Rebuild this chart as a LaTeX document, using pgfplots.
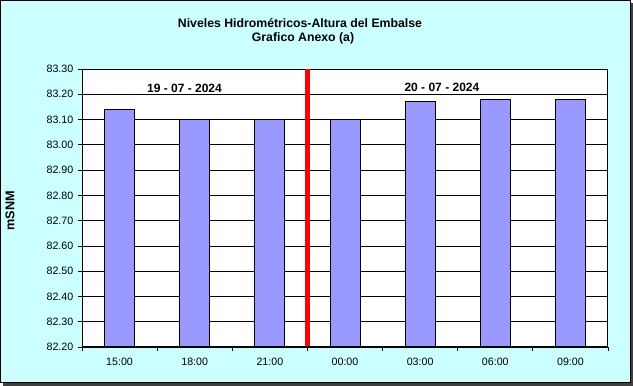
\documentclass[border=0pt]{standalone}
\usepackage{pgfplots}
\pgfplotsset{compat=1.18}
\usepackage{fontspec}
\setmainfont{Liberation Sans}
\definecolor{bgc}{RGB}{204,255,255}
\definecolor{barc}{RGB}{153,153,255}
\begin{document}
\begin{tikzpicture}[x=0.75pt,y=0.75pt]
\useasboundingbox (0,0) rectangle (633,386);
\fill[black!75] (3,0) rectangle (633,383);
\filldraw[fill=bgc, draw=black, line width=0.75pt] (0.5,3) rectangle (630,385.5);
\node[font=\bfseries\fontsize{9.2}{10}\selectfont] at (300,363) {Niveles Hidrométricos-Altura del Embalse};
\node[font=\bfseries\fontsize{9.2}{10}\selectfont] at (303,348) {Grafico Anexo (a)};
\node[font=\bfseries\fontsize{9.5}{10}\selectfont, rotate=90] at (10,175) {mSNM};
\begin{axis}[
  at={(61.5pt,29.25pt)}, anchor=south west,
  scale only axis, width=394.5pt, height=208.5pt,
  axis background/.style={fill=white},
  xmin=-0.5, xmax=6.5, ymin=82.2, ymax=83.3,
  xtick={0,1,2,3,4,5,6},
  xticklabels={15:00,18:00,21:00,00:00,03:00,06:00,09:00},
  major x tick style={draw=none},
  minor xtick={-0.5,0.5,1.5,2.5,3.5,4.5,5.5,6.5},
  minor tick length=3pt,
  major tick length=3pt,
  tick align=outside,
  xtick pos=bottom, ytick pos=left,
  ytick={82.2,82.3,82.4,82.5,82.6,82.7,82.8,82.9,83.0,83.1,83.2,83.3},
  yticklabel={\pgfmathprintnumber[fixed,fixed zerofill,precision=2]{\tick}},
  /pgf/number format/assume math mode=true,
  ticklabel style={font=\fontsize{8}{9}\selectfont},
  xticklabel style={yshift=-2pt},
  tick style={black, line width=0.6pt},
  ymajorgrids, grid style={black, line width=0.6pt},
  axis line style={black, line width=0.75pt},
  ybar, bar width=22.5pt,
]
\addplot[fill=barc, draw=black, line width=0.6pt] coordinates {
(0,83.14) (1,83.10) (2,83.10) (3,83.10) (4,83.17) (5,83.18) (6,83.18)};
\addplot[sharp plot, red, line width=3.5pt] coordinates {(2.5,82.2) (2.5,83.3)};
\draw[black, line width=1.5pt] (rel axis cs:0,1) -- (rel axis cs:0,0) -- (rel axis cs:1,0);
\node[font=\bfseries\fontsize{9}{10}\selectfont] at (axis cs:0.864,83.225) {19 - 07 - 2024};
\node[font=\bfseries\fontsize{9}{10}\selectfont] at (axis cs:4.29,83.229) {20 - 07 - 2024};
\end{axis}
\end{tikzpicture}
\end{document}
